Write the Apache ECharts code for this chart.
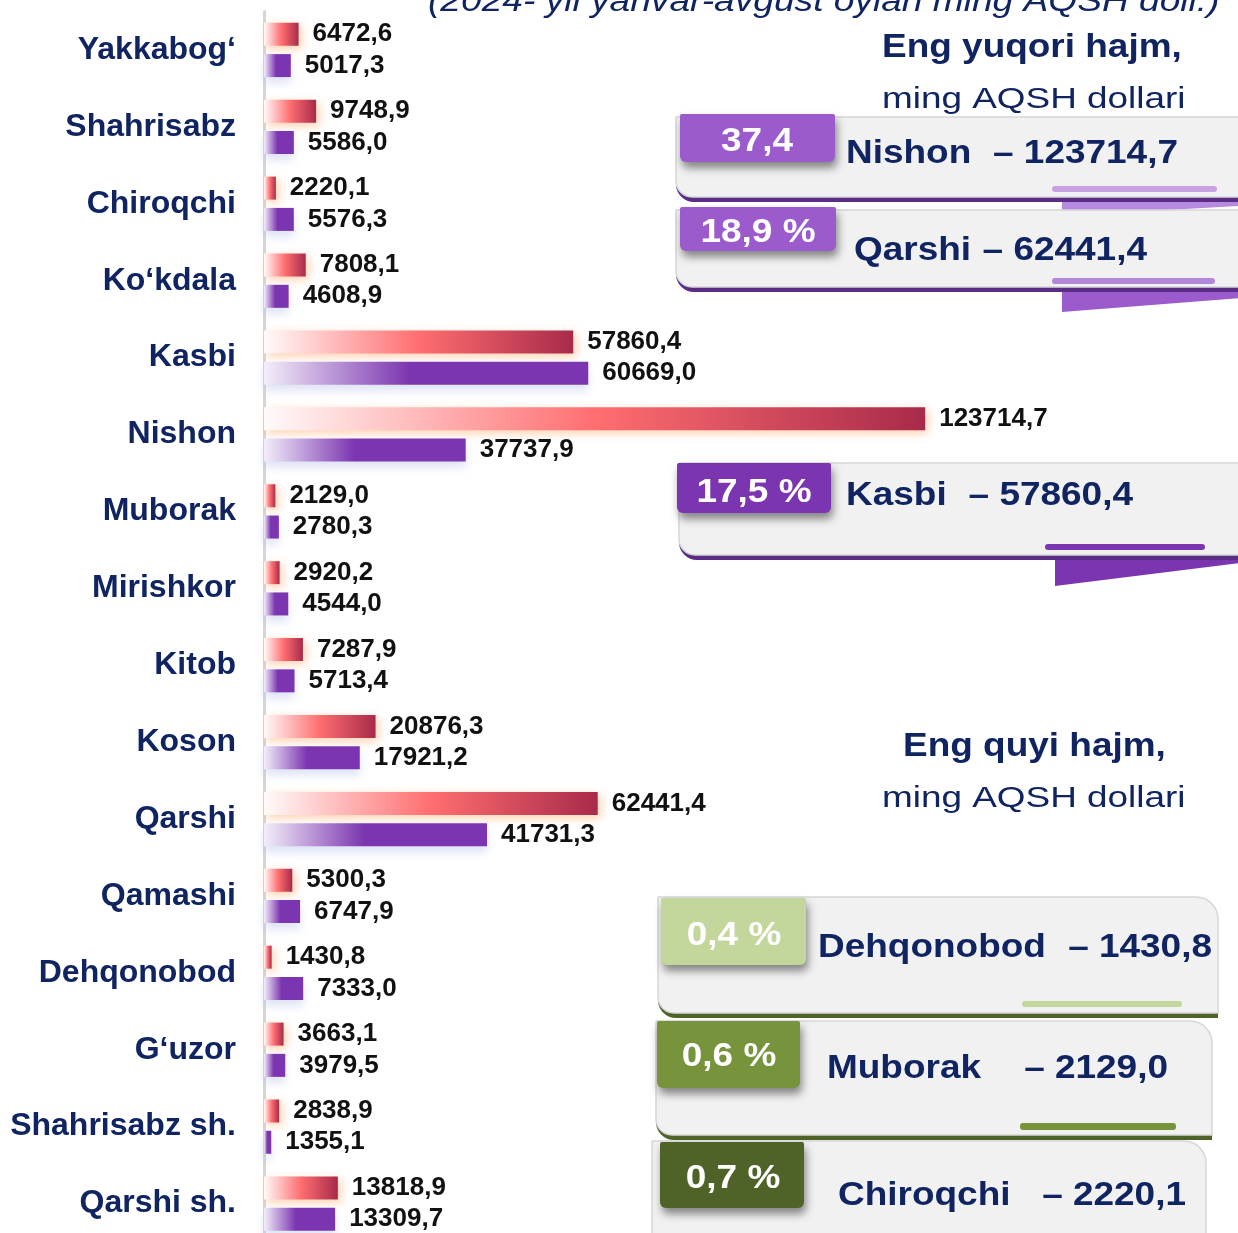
<!DOCTYPE html>
<html>
<head>
<meta charset="utf-8">
<title>Tumanlar kesimida eksport</title>
<script src="https://cdn.jsdelivr.net/npm/echarts@6.0.0/dist/echarts.min.js"></script>
<style>
  html, body { margin: 0; padding: 0; background: #fff; }
  #chart { width: 1238px; height: 1233px; }
</style>
</head>
<body>
<div id="chart"></div>
<script>
// tumanlar (yuqoridan pastga)
var categories = ["Yakkabog‘", "Shahrisabz", "Chiroqchi", "Ko‘kdala", "Kasbi", "Nishon", "Muborak", "Mirishkor",
  "Kitob", "Koson", "Qarshi", "Qamashi", "Dehqonobod", "G‘uzor", "Shahrisabz sh.", "Qarshi sh."];
// qizil ustunlar
var values2024 = [6472.6, 9748.9, 2220.1, 7808.1, 57860.4, 123714.7, 2129.0, 2920.2,
  7287.9, 20876.3, 62441.4, 5300.3, 1430.8, 3663.1, 2838.9, 13818.9];
// binafsha ustunlar
var values2023 = [5017.3, 5586.0, 5576.3, 4608.9, 60669.0, 37737.9, 2780.3, 4544.0,
  5713.4, 17921.2, 41731.3, 6747.9, 7333.0, 3979.5, 1355.1, 13309.7];

var titleText = "(2024- yil yanvar-avgust oylari ming AQSH doll.)";
var navy = '#0f2461';
var font = "'Liberation Sans', Arial, sans-serif";

function fmt(v){
  return v.toFixed(1).replace('.', ',');
}

var total = 0;
for (let i in values2024){ total += values2024[i]; }
var order = values2024.map(function(v, i){ return i; });
order.sort(function(a, b){ return values2024[b] - values2024[a]; });
var topIdx = order.slice(0, 3);
var bottomIdx = order.slice(-3).reverse();

// bannerlar joylashuvi
var topBoxes = [
  {x: 676, y: 117, w: 620, h: 80, r: [0, 22, 0, 16], band: '#5b2c86',
   tab: [680, 114, 155, 48], tabColor: '#9b5bcc', pct: [757, 142], suffix: '',
   pill: [1052, 186, 165, 6], pillColor: '#c9a2e3',
   tail: [[1062, 195], [1240, 195], [1240, 206], [1062, 216]], tailColor: '#b68ade',
   nameX: 846, valueX: 1178, textY: 154},
  {x: 676, y: 210, w: 620, h: 77, r: [0, 22, 0, 16], band: '#5b2c86',
   tab: [680, 207, 156, 44], tabColor: '#9b5bcc', pct: [758, 233], suffix: ' %',
   pill: [1052, 278, 163, 6], pillColor: '#b386da',
   tail: [[1062, 286], [1240, 286], [1240, 298], [1062, 312]], tailColor: '#9b5bcc',
   nameX: 854, valueX: 1147, textY: 251},
  {x: 679, y: 463, w: 620, h: 92, r: [0, 22, 0, 16], band: '#5b2c86',
   tab: [677, 463, 154, 50], tabColor: '#7b35b0', pct: [754, 493], suffix: ' %',
   pill: [1045, 544, 160, 6], pillColor: '#7b35b0',
   tail: [[1055, 555], [1240, 555], [1240, 563], [1055, 586]], tailColor: '#7b35b0',
   nameX: 846, valueX: 1133, textY: 496}
];
var bottomBoxes = [
  {x: 658, y: 897, w: 560, h: 116, r: [0, 22, 0, 16], band: '#4f6228',
   tab: [661, 898, 145, 67], tabColor: '#c3d69b', pct: [734, 936], suffix: ' %',
   pill: [1022, 1001, 160, 6], pillColor: '#c3d69b',
   nameX: 818, valueX: 1212, textY: 948},
  {x: 656, y: 1021, w: 556, h: 114, r: [0, 22, 0, 16], band: '#4f6228',
   tab: [657, 1021, 143, 67], tabColor: '#77933c', pct: [729, 1057], suffix: ' %',
   pill: [1020, 1123, 156, 7], pillColor: '#77933c',
   nameX: 827, valueX: 1168, textY: 1069},
  {x: 652, y: 1141, w: 554, h: 120, r: [0, 22, 0, 16], band: '#4f6228',
   tab: [660, 1142, 144, 66], tabColor: '#4f6228', pct: [733, 1179], suffix: ' %',
   nameX: 838, valueX: 1186, textY: 1196}
];

function txt(x, y, s, opt){
  return {
    type: 'text', x: x, y: y, z: 20, scaleX: opt.scaleX || 1,
    style: {
      text: s, fontSize: opt.size, fontWeight: opt.weight || 'bold', fontStyle: opt.style || 'normal',
      fontFamily: font, fill: opt.color || navy, align: opt.align || 'left', verticalAlign: 'middle'
    }
  };
}

function makeBanner(b, idx){
  var els = [];
  if (b.tail){
    els.push({type: 'polygon', z: 10, shape: {points: b.tail}, style: {fill: b.tailColor}});
  }
  // pastki chiziq
  els.push({type: 'rect', z: 11, shape: {x: b.x, y: b.y + 5, width: b.w, height: b.h, r: [0, 22, 0, 18]},
    style: {fill: b.band}});
  els.push({type: 'rect', z: 12, shape: {x: b.x, y: b.y, width: b.w, height: b.h, r: b.r},
    style: {fill: '#f1f1f1', stroke: '#d6d6d6', lineWidth: 1.5}});
  if (b.pill){
    els.push({type: 'rect', z: 13, shape: {x: b.pill[0], y: b.pill[1], width: b.pill[2], height: b.pill[3], r: 3},
      style: {fill: b.pillColor}});
  }
  els.push({type: 'rect', z: 14, shape: {x: b.tab[0], y: b.tab[1], width: b.tab[2], height: b.tab[3], r: [2, 2, 6, 6]},
    style: {fill: b.tabColor, shadowBlur: 9, shadowOffsetX: 2, shadowOffsetY: 6, shadowColor: 'rgba(0,0,0,0.45)'}});
  var pct = fmt(values2024[idx] / total * 100) + b.suffix;
  els.push(txt(b.pct[0], b.pct[1], pct, {size: 33, scaleX: 1.12, align: 'center', color: '#fff'}));
  els.push(txt(b.nameX, b.textY, categories[idx], {size: 33, scaleX: 1.12}));
  els.push(txt(b.valueX, b.textY, '– ' + fmt(values2024[idx]), {size: 33, scaleX: 1.12, align: 'right'}));
  return els;
}

var elements = [];
elements.push(txt(428, 2, titleText, {size: 32, scaleX: 1.16, weight: 'normal', style: 'italic'}));
elements.push(txt(882, 48, 'Eng yuqori hajm,', {size: 33, scaleX: 1.12}));
elements.push(txt(882, 100, 'ming AQSH dollari', {size: 30, scaleX: 1.23, weight: 'normal'}));
elements.push(txt(903, 747, 'Eng quyi hajm,', {size: 33, scaleX: 1.12}));
elements.push(txt(882, 799, 'ming AQSH dollari', {size: 30, scaleX: 1.23, weight: 'normal'}));
for (let i = 0; i < topBoxes.length; i++){
  elements = elements.concat(makeBanner(topBoxes[i], topIdx[i]));
}
for (let i = 0; i < bottomBoxes.length; i++){
  elements = elements.concat(makeBanner(bottomBoxes[i], bottomIdx[i]));
}

var redGrad = new echarts.graphic.LinearGradient(0, 0, 1, 0, [
  {offset: 0, color: '#fffafa'},
  {offset: 0.5, color: '#ff6e70'},
  {offset: 1, color: '#a82a4a'}
]);
var purpleGrad = new echarts.graphic.LinearGradient(0, 0, 1, 0, [
  {offset: 0, color: '#f3eef9'},
  {offset: 0.45, color: '#7b35b0'},
  {offset: 1, color: '#7b35b0'}
]);

var labelStyle = {
  show: true, position: 'right', distance: 14, color: '#111',
  fontSize: 26, fontWeight: 'bold', fontFamily: font,
  formatter: function(p){ return fmt(p.value); }
};

var dom = document.getElementById("chart");
var myChart = echarts.init(dom, null, {renderer: 'canvas'});
var option = {
  backgroundColor: '#ffffff',
  animation: false,
  grid: {left: 264, right: 12, top: 11.5, bottom: -9, containLabel: false, outerBoundsMode: 'none'},
  xAxis: {type: 'value', min: 0, max: 180000, show: false},
  yAxis: {
    type: 'category',
    data: categories,
    inverse: true,
    axisLine: {lineStyle: {color: '#d6d6d6', width: 3}},
    axisTick: {length: 8, lineStyle: {color: '#d6d6d6', width: 3}},
    axisLabel: {color: navy, fontSize: 32, fontWeight: 'bold', fontFamily: font, margin: 28}
  },
  series: [
    {
      name: '2024',
      type: 'bar',
      data: values2024,
      barWidth: 23,
      barGap: '36%',
      itemStyle: {color: redGrad, shadowColor: 'rgba(255,160,90,0.5)', shadowBlur: 10, shadowOffsetX: 3, shadowOffsetY: 3},
      label: labelStyle
    },
    {
      name: '2023',
      type: 'bar',
      data: values2023,
      barWidth: 23,
      itemStyle: {color: purpleGrad, shadowColor: 'rgba(160,175,225,0.35)', shadowBlur: 10, shadowOffsetY: 6},
      label: labelStyle
    }
  ],
  graphic: {elements: elements}
};
myChart.setOption(option);
</script>
</body>
</html>
